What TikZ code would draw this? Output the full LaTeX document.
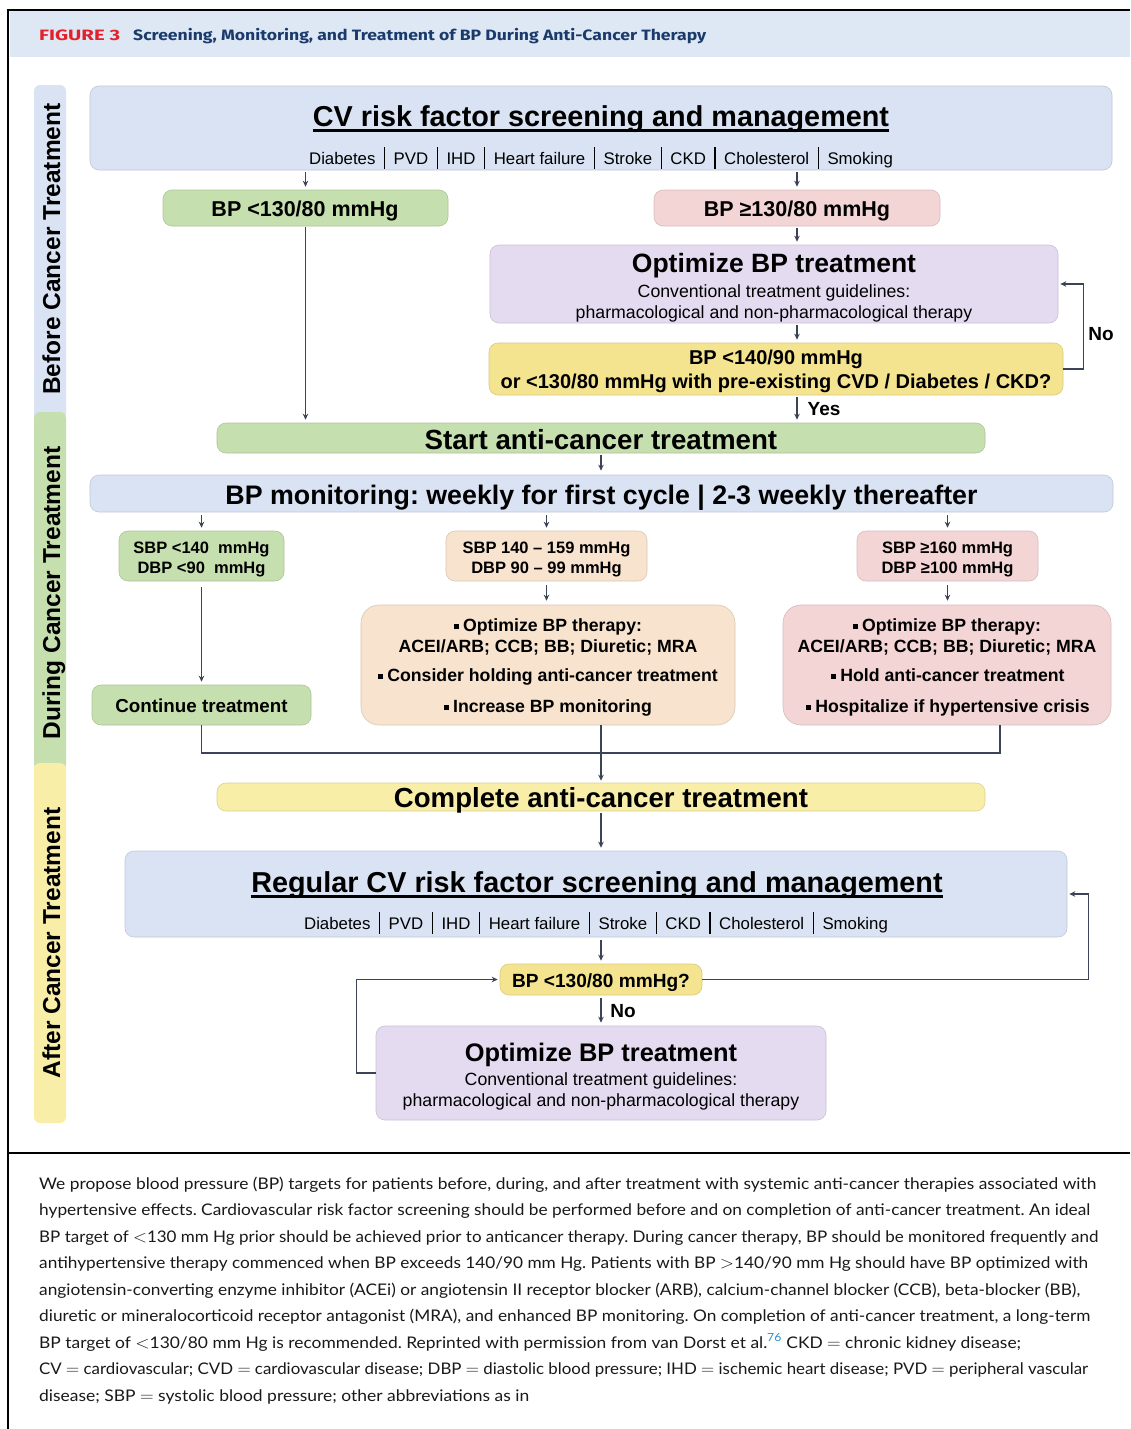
\documentclass[tikz,border=0pt]{standalone}
\usepackage{fontspec}
\usepackage{graphicx}
\setmainfont{Liberation Sans}
\newfontfamily\capfont{Lato}
\newfontfamily\headfont{Fira Sans}
\usetikzlibrary{arrows.meta,fit,calc}
\frenchspacing
\definecolor{hdrbg}{HTML}{DEE8F4}
\definecolor{cblue}{HTML}{DAE3F3}
\definecolor{cgreen}{HTML}{C6DFAE}
\definecolor{cpink}{HTML}{F3D5D5}
\definecolor{clav}{HTML}{E4DBF1}
\definecolor{cpeach}{HTML}{F7E3CE}
\definecolor{cyel}{HTML}{F5E48F}
\definecolor{cyelb}{HTML}{F8EEA8}
\definecolor{arrc}{HTML}{3B4456}
\definecolor{figred}{HTML}{E2222B}
\definecolor{navy}{HTML}{1A3A6C}
\definecolor{linkblue}{HTML}{2A8FD0}
\newcommand\fsz[1]{\fontsize{#1}{#1}\selectfont}
\newcommand\fsep{\hspace{8.5pt}\rule[-5pt]{1.3pt}{22pt}\hspace{8.5pt}}
\newcommand\factors{Diabetes\fsep PVD\fsep IHD\fsep Heart failure\fsep Stroke\fsep CKD\fsep Cholesterol\fsep Smoking}
\newcommand\sq{\raisebox{2pt}{\rule{5pt}{5pt}}\hspace{4pt}}
\newcommand\capline[2]{\resizebox{#1}{\height}{\capfont\fsz{16}#2}}
\begin{document}
\begin{tikzpicture}[x=1pt,y=-1pt,
  box/.style={rounded corners=9pt, fill=#1, draw=#1!88!black, line width=0.6pt, inner sep=0pt},
  bar/.style={rounded corners=6pt, fill=#1, draw=none, inner sep=0pt},
  tx/.style={inner sep=0pt, anchor=base, text=black},
  arr/.style={draw=arrc, line width=1.4pt, -{Stealth[length=6pt,width=5.5pt]}},
  ln/.style={draw=arrc, line width=1.4pt},
  capl/.style={inner sep=0pt, anchor=base west, text=black!90}]
\useasboundingbox (0,0) rectangle (1130,1429);
\fill[white] (0,0) rectangle (1130,1429);
% frame and header
\fill[hdrbg] (10,11) rectangle (1130,57);
\draw[line width=2pt] (8,10) -- (1130,10);
\draw[line width=2pt] (8,9) -- (8,1429);
\draw[line width=2.5pt] (8,1153) -- (1130,1153);
\node[capl] (fig) at (39,41) {\resizebox{81pt}{\height}{\headfont\bfseries\fsz{15}\color{figred}FIGURE 3}};
\node[capl] (title) at (133,41) {\resizebox{573pt}{\height}{\headfont\bfseries\fsz{15}\color{navy}Screening, Monitoring, and Treatment of BP During Anti-Cancer Therapy}};
% phase bars
\node[bar=cblue, fit={(34,85) (66,420)}] (pb1) {};
\node[bar=cgreen, fit={(34,412) (66,770)}] (pb2) {};
\node[bar=cyelb, fit={(34,763) (66,1123)}] (pb3) {};
\node[tx, rotate=90, font={\fsz{24.5}\bfseries}] (lb1) at (60,249) {Before Cancer Treatment};
\node[tx, rotate=90, font={\fsz{24.5}\bfseries}] (lb2) at (60,593) {During Cancer Treatment};
\node[tx, rotate=90, font={\fsz{24.5}\bfseries}] (lb3) at (60,943) {After Cancer Treatment};
% boxes
\node[box=cblue, fit={(90,86) (1112,170)}] (cv) {};
\node[box=cgreen, fit={(163,190) (448,226)}] (g1) {};
\node[box=cpink, fit={(654,190) (940,226)}] (p1) {};
\node[box=clav, fit={(490,245) (1058,323)}] (opt1) {};
\node[box=cyel, fit={(489,343) (1063,395)}] (y1) {};
\node[box=cgreen, fit={(217,423) (985,453)}] (start) {};
\node[box=cblue, fit={(90,475) (1113,512)}] (mon) {};
\node[box=cgreen, fit={(119,531) (284,581)}] (s1) {};
\node[box=cpeach, fit={(446,531) (647,581)}] (s2) {};
\node[box=cpink, fit={(857,531) (1038,581)}] (s3) {};
\node[box=cpeach, rounded corners=18pt, fit={(361,605) (735,725)}] (b2) {};
\node[box=cpink, rounded corners=18pt, fit={(783,605) (1111,725)}] (b3) {};
\node[box=cgreen, fit={(92,685) (311,725)}] (cont) {};
\node[box=cyelb, fit={(217,783) (985,811)}] (comp) {};
\node[box=cblue, fit={(125,851) (1067,937)}] (reg) {};
\node[box=cyel, fit={(500,964) (702,995)}] (q) {};
\node[box=clav, fit={(376,1026) (826,1120)}] (opt2) {};
% texts
\node[tx, font={\fsz{28.8}\bfseries}] (cvt) at (601,126) {CV risk factor screening and management};
\draw[line width=2.4pt] ([yshift=-4.5pt]cvt.base west) -- ([yshift=-4.5pt]cvt.base east);
\node[tx, font={\fsz{16.8}}] (cvf) at (601,164) {\factors};
\node[tx, font={\fsz{21.5}\bfseries}] (g1t) at (305,216) {BP <130/80 mmHg};
\node[tx, font={\fsz{21.5}\bfseries}] (p1t) at (797,216) {BP ≥130/80 mmHg};
\node[tx, font={\fsz{26.5}\bfseries}] (o1a) at (774,272.5) {Optimize BP treatment};
\node[tx, font={\fsz{17.7}}] (o1b) at (774,297.5) {Conventional treatment guidelines:};
\node[tx, font={\fsz{17.7}}] (o1c) at (774,318.5) {pharmacological and non-pharmacological therapy};
\node[tx, font={\fsz{20}\bfseries}] (y1a) at (776,364) {BP <140/90 mmHg};
\node[tx, font={\fsz{20}\bfseries}] (y1b) at (776,388) {or <130/80 mmHg with pre-existing CVD / Diabetes / CKD?};
\node[tx, font={\fsz{27.7}\bfseries}] (stt) at (601,449) {Start anti-cancer treatment};
\node[tx, font={\fsz{26.8}\bfseries}] (mont) at (601.5,504) {BP monitoring: weekly for first cycle | 2-3 weekly thereafter};
\node[tx, font={\fsz{16.5}\bfseries}] (s1a) at (201.5,553) {SBP <140~ mmHg};
\node[tx, font={\fsz{16.5}\bfseries}] (s1b) at (201.5,573) {DBP <90~ mmHg};
\node[tx, font={\fsz{16.5}\bfseries}] (s2a) at (546.5,553) {SBP 140 – 159 mmHg};
\node[tx, font={\fsz{16.5}\bfseries}] (s2b) at (546.5,573) {DBP 90 – 99 mmHg};
\node[tx, font={\fsz{16.5}\bfseries}] (s3a) at (947.5,553) {SBP ≥160 mmHg};
\node[tx, font={\fsz{16.5}\bfseries}] (s3b) at (947.5,573) {DBP ≥100 mmHg};
\node[tx, font={\fsz{17.7}\bfseries}] (b2a) at (548,631) {\sq Optimize BP therapy:};
\node[tx, font={\fsz{17.7}\bfseries}] (b2b) at (548,652) {ACEI/ARB; CCB; BB; Diuretic; MRA};
\node[tx, font={\fsz{17.7}\bfseries}] (b2c) at (548,681) {\sq Consider holding anti-cancer treatment};
\node[tx, font={\fsz{17.7}\bfseries}] (b2d) at (548,712) {\sq Increase BP monitoring};
\node[tx, font={\fsz{17.7}\bfseries}] (b3a) at (947,631) {\sq Optimize BP therapy:};
\node[tx, font={\fsz{17.7}\bfseries}] (b3b) at (947,652) {ACEI/ARB; CCB; BB; Diuretic; MRA};
\node[tx, font={\fsz{17.7}\bfseries}] (b3c) at (948,681) {\sq Hold anti-cancer treatment};
\node[tx, font={\fsz{17.7}\bfseries}] (b3d) at (948,712) {\sq Hospitalize if hypertensive crisis};
\node[tx, font={\fsz{18.8}\bfseries}] (contt) at (201.5,712) {Continue treatment};
\node[tx, font={\fsz{27.6}\bfseries}] (compt) at (601,807) {Complete anti-cancer treatment};
\node[tx, font={\fsz{28.8}\bfseries}] (regt) at (597,892) {Regular CV risk factor screening and management};
\draw[line width=2.4pt] ([yshift=-4.5pt]regt.base west) -- ([yshift=-4.5pt]regt.base east);
\node[tx, font={\fsz{16.8}}] (regf) at (596,929) {\factors};
\node[tx, font={\fsz{19.1}\bfseries}] (qt) at (601,987) {BP <130/80 mmHg?};
\node[tx, font={\fsz{25.4}\bfseries}] (o2a) at (601,1061) {Optimize BP treatment};
\node[tx, font={\fsz{17.7}}] (o2b) at (601,1085.5) {Conventional treatment guidelines:};
\node[tx, font={\fsz{17.7}}] (o2c) at (601,1106.5) {pharmacological and non-pharmacological therapy};
% connectors
\draw[arr, shorten <=2pt, shorten >=3pt] (cv.south -| g1.north) -- (g1.north);
\draw[arr, shorten <=2pt, shorten >=3pt] (cv.south -| p1.north) -- (p1.north);
\draw[arr, shorten <=2pt, shorten >=3pt] (p1.south) -- (p1.south |- opt1.north);
\draw[arr, shorten <=2pt, shorten >=3pt] (opt1.south -| p1.south) -- (y1.north -| p1.south);
\draw[arr, shorten >=2pt] (y1.east) -- ++(20,0) |- (opt1.east);
\node[tx, font={\fsz{19}\bfseries}] (nolab1) at (1101,340) {No};
\draw[arr, shorten <=2pt, shorten >=3pt] (y1.south -| p1.south) -- (start.north -| p1.south);
\node[tx, font={\fsz{19}\bfseries}] (yeslab) at (824,415) {Yes};
\draw[arr, shorten <=1pt, shorten >=3pt] (g1.south) -- (start.north -| g1.south);
\draw[arr, shorten <=2pt, shorten >=4pt] (start.south) -- (start.south |- mon.north);
\draw[arr, shorten <=3pt, shorten >=3pt] (mon.south -| s1.north) -- (s1.north);
\draw[arr, shorten <=3pt, shorten >=3pt] (mon.south -| s2.north) -- (s2.north);
\draw[arr, shorten <=3pt, shorten >=3pt] (mon.south -| s3.north) -- (s3.north);
\draw[arr, shorten <=4pt, shorten >=4pt] (s2.south) -- (s2.south |- b2.north);
\draw[arr, shorten <=4pt, shorten >=4pt] (s3.south) -- (s3.south |- b3.north);
\draw[arr, shorten <=6pt, shorten >=3pt] (s1.south) -- (s1.south |- cont.north);
\coordinate (mR) at (1000,753);
\draw[ln] (cont.south) |- (mR) -- (mR |- b3.south);
\draw[arr, shorten >=2pt] (b2.south -| comp.north) -- (comp.north);
\draw[arr, shorten <=2pt, shorten >=3pt] (comp.south) -- (comp.south |- reg.north);
\draw[arr, shorten <=3pt, shorten >=3pt] (reg.south -| q.north) -- (q.north);
\draw[arr, shorten >=2pt] (q.east) -- ++(386,0) |- (reg.east);
\draw[arr, shorten <=3pt, shorten >=3pt] (q.south) -- (q.south |- opt2.north);
\node[tx, font={\fsz{19}\bfseries}] (nolab2) at (623,1017) {No};
\draw[arr, shorten >=2pt] (opt2.west) -- ++(-19,0) |- (q.west);
% caption
\node[capl] (cap1) at (39,1189) {\capline{1057pt}{We propose blood pressure (BP) targets for patients before, during, and after treatment with systemic anti-cancer therapies associated with}};
\node[capl] (cap2) at (39,1215.5) {\capline{1051pt}{hypertensive effects. Cardiovascular risk factor screening should be performed before and on completion of anti-cancer treatment. An ideal}};
\node[capl] (cap3) at (39,1242) {\capline{1059pt}{BP target of $<$130 mm Hg prior should be achieved prior to anticancer therapy. During cancer therapy, BP should be monitored frequently and}};
\node[capl] (cap4) at (39,1268.5) {\capline{1049pt}{antihypertensive therapy commenced when BP exceeds 140/90 mm Hg. Patients with BP $>$140/90 mm Hg should have BP optimized with}};
\node[capl] (cap5) at (39,1295) {\capline{1041pt}{angiotensin-converting enzyme inhibitor (ACEi) or angiotensin II receptor blocker (ARB), calcium-channel blocker (CCB), beta-blocker (BB),}};
\node[capl] (cap6) at (39,1321.5) {\capline{1051pt}{diuretic or mineralocorticoid receptor antagonist (MRA), and enhanced BP monitoring. On completion of anti-cancer treatment, a long-term}};
\node[capl] (cap7) at (39,1348) {\capline{982pt}{BP target of $<$130/80 mm Hg is recommended. Reprinted with permission from van Dorst et al.\textsuperscript{\color{linkblue}76} CKD $=$ chronic kidney disease;}};
\node[capl] (cap8) at (39,1374.5) {\capline{1049pt}{CV $=$ cardiovascular; CVD $=$ cardiovascular disease; DBP $=$ diastolic blood pressure; IHD $=$ ischemic heart disease; PVD $=$ peripheral vascular}};
\node[capl] (cap9) at (39,1401) {\capline{490pt}{disease; SBP $=$ systolic blood pressure; other abbreviations as in}};
\end{tikzpicture}
\end{document}
